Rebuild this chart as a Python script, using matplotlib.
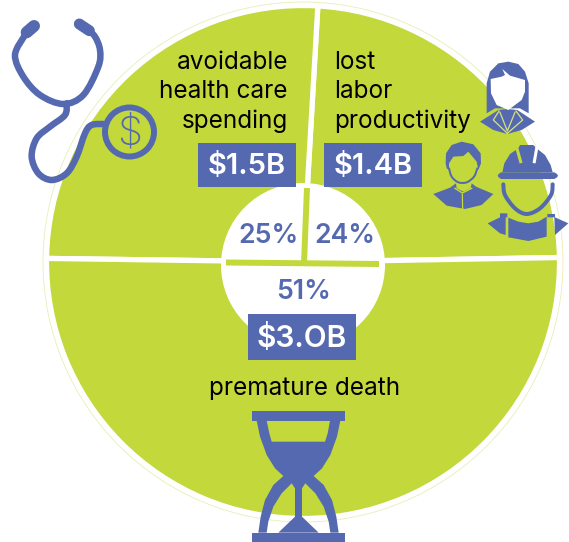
import matplotlib
matplotlib.use('Agg')
import matplotlib.pyplot as plt
from matplotlib.patches import Circle, PathPatch, Rectangle
from matplotlib.path import Path

# data
wedge_sizes = [23.8, 25.7, 50.5]  # lost labor, avoidable spending, premature death
percents = ['24%', '25%', '51%']
amounts = ['$1.4B', '$1.5B', '$3.OB']
names = ['lost\nlabor\nproductivity', 'avoidable\nhealth care\nspending', 'premature death']

GREEN = '#C2D83B'
BLUE = '#5569B0'
W, H = 569, 542
plt.rcParams['font.family'] = ['Inter', 'DejaVu Sans']


def zoomed(pts, ox, oy):
    return [(ox + x / 3, oy + y / 3) for x, y in pts]


def smooth(pts):
    # catmull-rom through the points, as bezier pieces
    verts = [pts[0]]
    codes = [Path.MOVETO]
    for i in range(len(pts) - 1):
        p0 = pts[max(i - 1, 0)]
        p1 = pts[i]
        p2 = pts[i + 1]
        p3 = pts[min(i + 2, len(pts) - 1)]
        c1 = (p1[0] + (p2[0] - p0[0]) / 6, p1[1] + (p2[1] - p0[1]) / 6)
        c2 = (p2[0] - (p3[0] - p1[0]) / 6, p2[1] - (p3[1] - p1[1]) / 6)
        verts += [c1, c2, p2]
        codes += [Path.CURVE4] * 3
    return Path(verts, codes)


def poly(ax, pts, color=BLUE, z=5):
    ax.add_patch(plt.Polygon(pts, closed=True, fc=color, ec='none', zorder=z))


def tube(ax, pts, lw, color=BLUE, z=5):
    ax.add_patch(PathPatch(smooth(pts), fc='none', ec=color, lw=lw * 0.72,
                           capstyle='round', joinstyle='round', zorder=z))


def holed(ax, outer, holes, z=5):
    # holes have to wind the other way round
    paths = [Path(outer + [outer[0]], closed=True)]
    for h in holes:
        paths.append(Path(h + [h[0]], closed=True))
    ax.add_patch(PathPatch(Path.make_compound_path(*paths), fc=BLUE, ec='none', zorder=z))


fig = plt.figure(figsize=(W / 100, H / 100), dpi=100)

# pie axes placed in pixels, centre (303, 262)
cx, cy, r = 303, 262, 256.5
ax_pie = fig.add_axes([(cx - r) / W, 1 - (cy + r) / H, 2 * r / W, 2 * r / H])
ax_pie.pie(wedge_sizes, startangle=1, colors=[GREEN] * 3, radius=1,
           wedgeprops={'edgecolor': 'white', 'linewidth': 3.8})
ax_pie.set_xlim(-1, 1)
ax_pie.set_ylim(-1, 1)

ax = fig.add_axes([0, 0, 1, 1])
ax.set_xlim(0, W)
ax.set_ylim(H, 0)
ax.axis('off')

# thin ring outside the pie and the hole
ax.add_patch(Circle((303, 262), 260, fc='none', ec='#E6EFB5', lw=0.6, zorder=1))
ax.add_patch(Circle((303, 265), 82, fc='white', ec='none', zorder=2))
ax.plot([226, 379], [262.5, 264], color=GREEN, lw=4.3, solid_capstyle='butt', zorder=3)
ax.plot([307, 304], [188, 263], color=GREEN, lw=4.3, solid_capstyle='butt', zorder=3)

# percent labels
for s, x, y in zip(percents, [345, 269, 304], [236, 236, 292]):
    ax.text(x, y, s, color=BLUE, fontsize=19.2, fontweight='semibold', ha='center', va='center', zorder=6)

# amount boxes
boxes = [(324, 143, 98, 44), (198, 143, 98, 44), (248, 314, 108, 46)]
sizes = [21, 21, 21.5]
for s, b, fs in zip(amounts, boxes, sizes):
    ax.add_patch(Rectangle((b[0], b[1]), b[2], b[3], fc=BLUE, ec='none', zorder=4))
    ax.text(b[0] + b[2] / 2, b[1] + b[3] / 2 + 1.5, s, color='white', fontsize=fs,
            fontweight='semibold', ha='center', va='center', zorder=6)

# names
ax.text(334, 92, names[0], fontsize=17.5, ha='left', va='center', linespacing=1.36, zorder=6)
ax.text(288, 92, names[1], fontsize=17.5, ha='right', va='center', linespacing=1.36, zorder=6)
ax.text(305, 389, names[2], fontsize=17.5, ha='center', va='center', zorder=6)

# stethoscope
o = (0, 0)
tube(ax, zoomed([(75, 105), (45, 165), (70, 230), (120, 285), (190, 312), (250, 285), (295, 200),
                 (300, 150), (285, 110), (260, 85)], *o), 6.5)
tube(ax, zoomed([(200, 310), (195, 345), (150, 380), (110, 415), (95, 470), (115, 520), (155, 540), (200, 520),
                 (230, 470), (255, 400), (275, 375), (315, 372)], *o), 6.5)
tube(ax, zoomed([(80, 97), (102, 78)], *o), 12)
tube(ax, zoomed([(238, 72), (268, 92)], *o), 11)
ax.add_patch(Circle((129.5, 132), 24.5, fc='none', ec=BLUE, lw=4.3, zorder=5))
ax.text(129.5, 134, '$', color=BLUE, fontsize=29, fontweight='light', ha='center', va='center', zorder=6)

# woman
o = (430, 55)
poly(ax, zoomed([(170, 175), (170, 85), (180, 50), (205, 25), (235, 20), (265, 27), (285, 50), (296, 85),
                 (296, 175), (270, 160), (195, 160)], *o))
poly(ax, zoomed([(182, 72), (215, 65), (225, 60), (217, 42), (240, 62), (285, 75), (285, 110), (275, 135),
                 (235, 165), (200, 150), (183, 115)], *o), color='white', z=6)
poly(ax, zoomed([(150, 200), (205, 165), (232, 162), (262, 165), (315, 200), (275, 225), (232, 237), (190, 225)], *o))
for pts in ([(207, 168), (190, 195), (232, 235)], [(258, 168), (278, 195), (232, 235)],
            [(210, 172), (232, 228), (255, 172)]):
    ax.plot(*zip(*zoomed(pts, *o)), color='#D5E37F', lw=0.9, zorder=6)

# man
poly(ax, zoomed([(47, 325), (48, 295), (65, 270), (95, 260), (130, 268), (152, 295), (153, 325), (145, 345),
                 (140, 320), (115, 290), (100, 303), (70, 305), (57, 325), (57, 345), (50, 340)], *o))
tube(ax, zoomed([(57, 340), (65, 365), (85, 382), (110, 382), (132, 365), (142, 340)], *o), 2)
poly(ax, zoomed([(10, 417), (60, 398), (78, 385), (80, 400), (100, 410), (122, 400), (125, 385), (138, 395),
                 (190, 417), (155, 450), (105, 462), (50, 452)], *o))
ax.plot(*zip(*zoomed([(97, 418), (98, 462)], *o)), color=GREEN, lw=0.9, zorder=6)
ax.plot(*zip(*zoomed([(75, 400), (97, 414), (125, 400)], *o)), color=GREEN, lw=1, zorder=6)

# worker
o = (485, 140)
poly(ax, zoomed([(52, 97), (58, 70), (75, 42), (100, 25), (105, 15), (145, 15), (155, 25), (180, 45), (197, 75),
                 (203, 97)], *o))
poly(ax, zoomed([(48, 97), (208, 97), (216, 102), (219, 107), (216, 112), (208, 117), (48, 117), (41, 112),
                 (38, 107), (41, 102)], *o))
ax.plot(*zip(*zoomed([(97, 30), (107, 65)], *o)), color=GREEN, lw=2.2, zorder=6)
ax.plot(*zip(*zoomed([(155, 25), (148, 65)], *o)), color='white', lw=2.2, zorder=6)
tube(ax, zoomed([(55, 133), (60, 165), (90, 205), (125, 222), (165, 205), (198, 165), (203, 133)], *o), 4)
poly(ax, zoomed([(8, 250), (45, 232), (45, 220), (67, 220), (67, 232), (62, 232), (62, 285), (45, 280)], *o))
poly(ax, zoomed([(70, 233), (100, 245), (130, 250), (160, 245), (185, 230), (185, 290), (130, 303), (70, 292)], *o))
poly(ax, zoomed([(187, 222), (210, 222), (210, 232), (250, 250), (210, 285), (208, 232), (187, 232)], *o))

# hourglass
o = (230, 400)
ax.add_patch(Rectangle(zoomed([(67, 32)], *o)[0], 278 / 3, 30 / 3, fc=BLUE, ec='none', zorder=5))
ax.add_patch(Rectangle(zoomed([(67, 398)], *o)[0], 278 / 3, 28 / 3, fc=BLUE, ec='none', zorder=5))
left = [(80, 62), (90, 110), (110, 165), (135, 205), (160, 228), (130, 255), (105, 300), (92, 350), (85, 398)]
right = [(411 - x, y) for x, y in left]
outer = zoomed(left + right[::-1], *o)
top_hole = zoomed([(110, 62), (300, 62), (293, 100), (285, 125), (125, 125), (118, 100)], *o)
hole_l = [(115, 365), (130, 320), (155, 280), (185, 250), (195, 265), (195, 350), (145, 398), (110, 398)]
hole_r = [(411 - x, y) for x, y in hole_l][::-1]
holed(ax, outer, [top_hole, zoomed(hole_l, *o), zoomed(hole_r, *o)])

fig.savefig('out.png', dpi=100)
